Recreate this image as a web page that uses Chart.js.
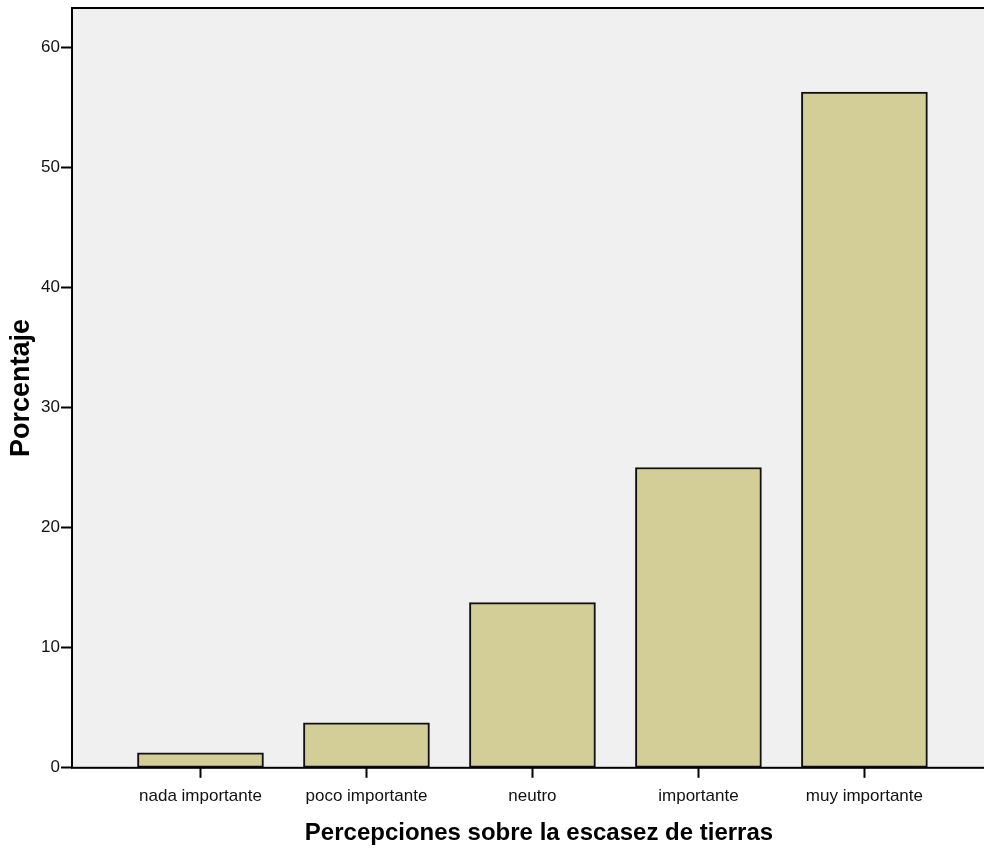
<!DOCTYPE html>
<html>
<head>
<meta charset="utf-8">
<script src="https://cdn.jsdelivr.net/npm/chart.js@4.4.1/dist/chart.umd.min.js"></script>
<style>
  html, body { margin: 0; padding: 0; background: #fff; overflow: hidden; }
  #wrap { width: 984px; height: 852px; overflow: hidden; position: relative; }
  #box { width: 1010px; height: 852px; }
</style>
</head>
<body>
<div id="wrap"><div id="box"><canvas id="chart"></canvas></div></div>
<script>
// categories and percentages
const categories = ["nada importante", "poco importante", "neutro", "importante", "muy importante"];
const percentages = [1.25, 3.75, 13.75, 25.0, 56.25];
const yTicks = [0, 10, 20, 30, 40, 50, 60];

// paint the grey plot background and the frame around it
const frame = {
  id: "frame",
  beforeDraw(chart) {
    const { ctx, chartArea: a } = chart;
    ctx.save();
    ctx.fillStyle = "#F0F0F0";
    ctx.fillRect(a.left, a.top, a.right - a.left, a.bottom - a.top);
    ctx.restore();
  },
  afterDraw(chart) {
    const { ctx, chartArea: a } = chart;
    ctx.save();
    ctx.strokeStyle = "#000";
    ctx.lineWidth = 2;
    ctx.strokeRect(a.left, a.top, a.right - a.left, a.bottom - a.top);
    ctx.restore();
  }
};

new Chart(document.getElementById("chart"), {
  type: "bar",
  data: {
    datasets: [{
      data: percentages.map((v, i) => ({ x: i, y: v })),
      backgroundColor: "#D3CE98",
      borderColor: "#111",
      borderWidth: 2,
      borderSkipped: false,
      barThickness: 126
    }]
  },
  options: {
    responsive: true,
    maintainAspectRatio: false,
    animation: false,
    layout: { padding: { top: 8, left: 0, right: 4, bottom: 4 } },
    plugins: { legend: { display: false }, tooltip: { enabled: false } },
    scales: {
      x: {
        type: "linear",
        offset: false,
        min: -0.774,
        max: 4.853,
        afterBuildTicks: s => { s.ticks = categories.map((c, i) => ({ value: i })); },
        grid: { offset: false, drawOnChartArea: false, drawTicks: true, tickLength: 10, tickColor: "#000", tickWidth: 2 },
        border: { display: false },
        ticks: {
          color: "#111",
          font: { family: "Liberation Sans, Arial", size: 17 },
          padding: 8,
          maxRotation: 0,
          autoSkip: false,
          callback: v => categories[v] ?? ""
        },
        title: {
          display: true,
          text: "Percepciones sobre la escasez de tierras",
          color: "#000",
          font: { family: "Liberation Sans, Arial", size: 24, weight: "bold" },
          padding: { top: 5, bottom: 0 }
        }
      },
      y: {
        min: 0,
        max: 63.25,
        afterBuildTicks: s => { s.ticks = yTicks.map(v => ({ value: v })); },
        afterFit: s => { s.width = 72; s.paddingTop = 0; s.paddingBottom = 0; },
        grid: { drawOnChartArea: false, drawTicks: true, tickLength: 11, tickColor: "#000", tickWidth: 2 },
        border: { display: false },
        ticks: {
          color: "#111",
          font: { family: "Liberation Sans, Arial", size: 17 },
          padding: 1
        },
        title: {
          display: true,
          text: "Porcentaje",
          color: "#000",
          font: { family: "Liberation Sans, Arial", size: 27, weight: "bold" },
          padding: { top: 5, bottom: 0 }
        }
      }
    }
  },
  plugins: [frame]
});
</script>
</body>
</html>
